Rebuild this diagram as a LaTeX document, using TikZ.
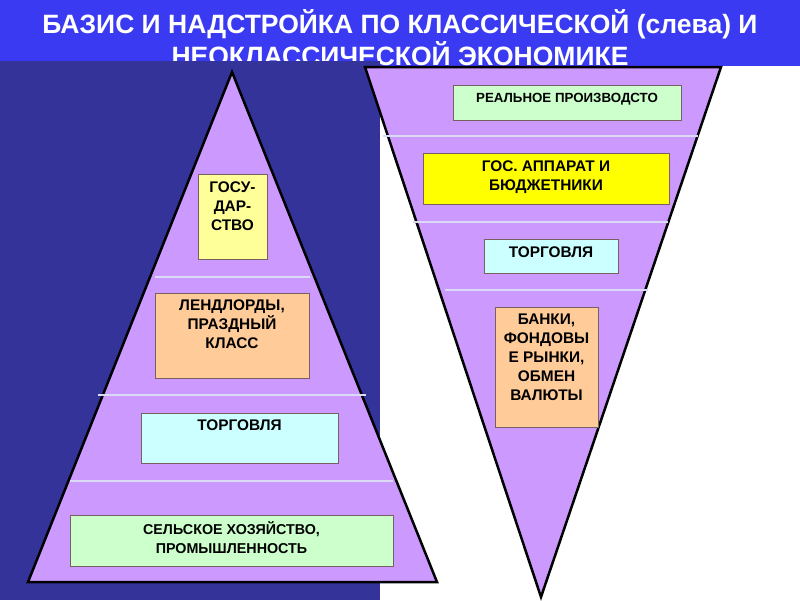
\documentclass[tikz,border=0pt]{standalone}
\usepackage{fontspec}
\setmainfont{Liberation Sans}
\usetikzlibrary{positioning}

\definecolor{bandblue}{RGB}{58,58,242}
\definecolor{navy}{RGB}{51,51,153}
\definecolor{pyramid}{RGB}{204,153,255}
\definecolor{sepline}{RGB}{218,218,245}
\definecolor{boxedge}{RGB}{120,96,96}
\definecolor{paleyellow}{RGB}{255,255,153}
\definecolor{peach}{RGB}{255,204,153}
\definecolor{palecyan}{RGB}{204,255,255}
\definecolor{palegreen}{RGB}{204,255,204}
\definecolor{brightyellow}{RGB}{255,255,0}

\begin{document}
\begin{tikzpicture}[
      x=1pt, y=-1pt,
      tri/.style={draw=black, line width=2.5pt, fill=pyramid},
      layer/.style={draw=sepline, line width=2.5pt},
      box/.style={rectangle, draw=boxedge, line width=0.8pt, inner sep=0pt},
      boxtext/.style={align=center, inner sep=0pt, font=\bfseries\fontsize{15.4}{19}\selectfont},
      titletext/.style={align=center, text=white, inner sep=0pt, font=\bfseries\fontsize{26.5}{32}\selectfont}
    ]
    \useasboundingbox (0,0) rectangle (800,600);
    \fill[white] (0,0) rectangle (800,600);

    % title band
    \fill[bandblue] (0,0) rectangle (800,66);
    \node[titletext] (title) at (400,38) {БАЗИС И НАДСТРОЙКА ПО КЛАССИЧЕСКОЙ (слева) И\\НЕОКЛАССИЧЕСКОЙ ЭКОНОМИКЕ};
    \fill[navy] (0,61) rectangle (380,600);

    % classical pyramid
    \draw[tri] (232,72) -- (437,582) -- (28,582) -- cycle;
    \draw[layer] (155,277) -- (310,277);
    \draw[layer] (98,395) -- (366,395);
    \draw[layer] (70,481) -- (393,481);

    % neoclassical pyramid
    \draw[tri] (365,67) -- (721,67) -- (541,597) -- cycle;
    \draw[layer] (383,136) -- (698,136);
    \draw[layer] (413,222) -- (668,222);
    \draw[layer] (445,290) -- (648,290);

    % left boxes
    \node[box, fill=paleyellow, minimum width=69pt, minimum height=85pt] (gos) at (232.5,216.5) {};
    \node[boxtext, below=7.5pt of gos.north] {ГОСУ-\\ДАР-\\СТВО};
    \node[box, fill=peach, minimum width=154pt, minimum height=85pt] (lend) at (232,335.5) {};
    \node[boxtext, below=7pt of lend.north] {ЛЕНДЛОРДЫ,\\ПРАЗДНЫЙ\\КЛАСС};
    \node[box, fill=palecyan, minimum width=197pt, minimum height=50pt] (torgl) at (239.5,438) {};
    \node[boxtext, below=7pt of torgl.north] {ТОРГОВЛЯ};
    \node[box, fill=palegreen, minimum width=323pt, minimum height=51pt] (selsk) at (231.5,540.5) {};
    \node[boxtext, font=\bfseries\fontsize{14.3}{19}\selectfont, below=6.5pt of selsk.north] {СЕЛЬСКОЕ ХОЗЯЙСТВО,\\ПРОМЫШЛЕННОСТЬ};

    % right boxes
    \node[box, fill=palegreen, minimum width=228pt, minimum height=35pt] (real) at (567,102.5) {};
    \node[boxtext, font=\bfseries\fontsize{13.3}{18}\selectfont, below=8pt of real.north] {РЕАЛЬНОЕ ПРОИЗВОДСТО};
    \node[box, fill=brightyellow, minimum width=246pt, minimum height=51pt] (gosap) at (546,178.5) {};
    \node[boxtext, below=7.5pt of gosap.north] {ГОС. АППАРАТ И\\БЮДЖЕТНИКИ};
    \node[box, fill=palecyan, minimum width=134pt, minimum height=34pt] (torgr) at (551,256) {};
    \node[boxtext, below=7.5pt of torgr.north] {ТОРГОВЛЯ};
    \node[box, fill=peach, minimum width=103pt, minimum height=120pt] (banki) at (546.5,367) {};
    \node[boxtext, below=7.5pt of banki.north] {БАНКИ,\\ФОНДОВЫ\\Е РЫНКИ,\\ОБМЕН\\ВАЛЮТЫ};
  \end{tikzpicture}
\end{document}
